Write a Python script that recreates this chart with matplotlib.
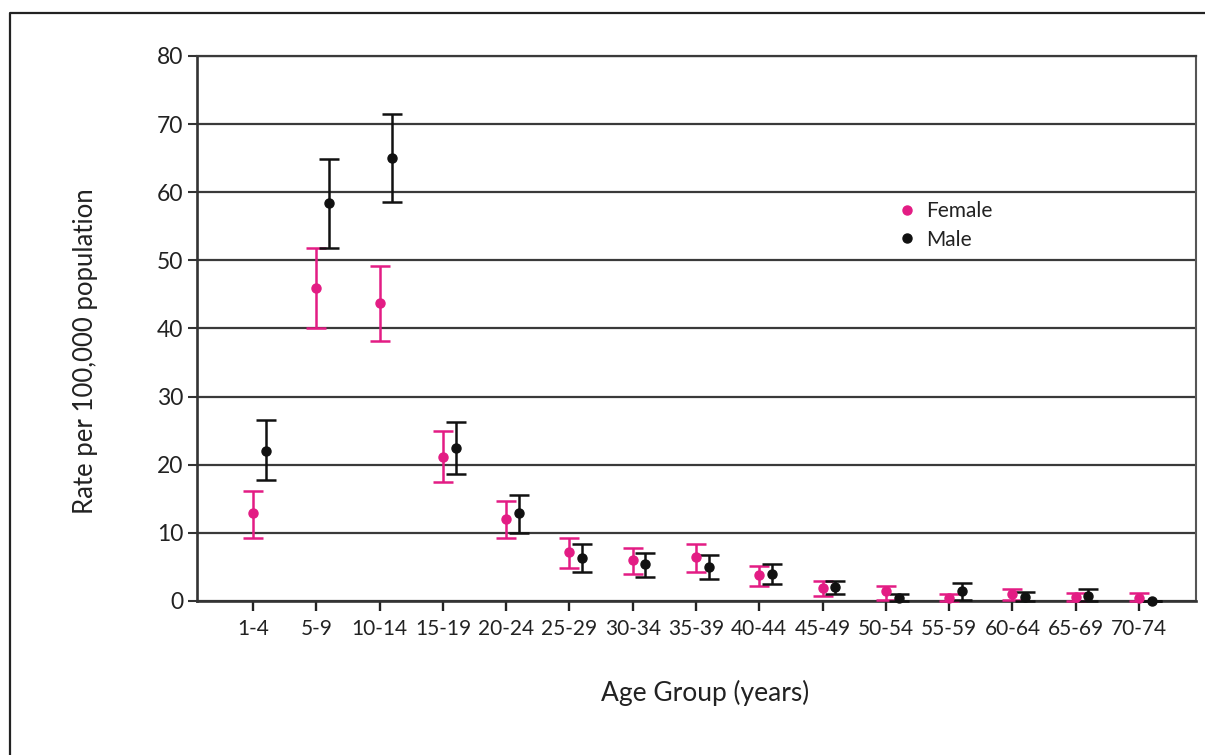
import numpy as np
import matplotlib
matplotlib.use("Agg")
import matplotlib.pyplot as plt
from matplotlib.lines import Line2D

# data
age_groups = ['1-4', '5-9', '10-14', '15-19', '20-24', '25-29', '30-34', '35-39',
              '40-44', '45-49', '50-54', '55-59', '60-64', '65-69', '70-74']
female = [12.9, 45.9, 43.7, 21.2, 12.0, 7.2, 6.0, 6.5, 3.8, 1.9, 1.4, 0.5, 1.0, 0.6, 0.5]
female_lo = [9.3, 40.0, 38.2, 17.4, 9.3, 4.9, 3.9, 4.3, 2.2, 0.7, 0.2, 0.0, 0.1, 0.0, 0.0]
female_hi = [16.2, 51.8, 49.2, 25.0, 14.6, 9.3, 7.8, 8.4, 5.1, 2.9, 2.2, 1.0, 1.8, 1.2, 1.2]
male = [22.0, 58.4, 65.0, 22.4, 12.9, 6.3, 5.4, 5.0, 4.0, 2.1, 0.5, 1.5, 0.6, 0.7, 0.0]
male_lo = [17.7, 51.8, 58.5, 18.6, 10.0, 4.3, 3.5, 3.2, 2.5, 1.0, 0.0, 0.2, 0.0, 0.0, 0.0]
male_hi = [26.5, 64.9, 71.4, 26.2, 15.6, 8.3, 7.1, 6.7, 5.5, 3.0, 1.0, 2.6, 1.3, 1.7, 0.0]

PINK = '#E31C84'
BLACK = '#111111'
GRID = '#3a3a3a'

plt.rcParams['font.family'] = ['Lato', 'DejaVu Sans']

fig = plt.figure(figsize=(12.05, 7.55), dpi=100)
ax = fig.add_axes([0.1635, 0.204, 0.829, 0.722])

x = np.arange(len(age_groups))
male_shift = 0.2


def draw_series(xs, y, lo, hi, color):
    y = np.array(y)
    err = np.vstack([y - np.array(lo), np.array(hi) - y])
    ax.errorbar(xs, y, yerr=err, fmt='o', color=color, ecolor=color,
                markersize=6.5, elinewidth=1.8, capsize=7.2, capthick=1.8,
                clip_on=False, zorder=3)


draw_series(x, female, female_lo, female_hi, PINK)
draw_series(x + male_shift, male, male_lo, male_hi, BLACK)

ax.set_xlim(-0.885, 14.9)
ax.set_ylim(0, 80)
ax.set_yticks(range(0, 81, 10))
ax.set_xticks(x, age_groups)

ax.set_axisbelow(True)
ax.yaxis.grid(True, color=GRID, linewidth=1.6)
ax.xaxis.grid(False)

for side in ['left', 'bottom']:
    ax.spines[side].set_color('#333333')
    ax.spines[side].set_linewidth(1.9)
ax.spines['right'].set_color('#555555')
ax.spines['right'].set_linewidth(1.5)
ax.spines['top'].set_color(GRID)
ax.spines['top'].set_linewidth(1.6)

ax.tick_params(axis='y', length=6.5, width=1.5, color='#333333', pad=3.5,
               labelsize=16.5, labelcolor='#222222')
ax.tick_params(axis='x', length=7, width=1.7, color='#222222', pad=6,
               labelsize=15, labelcolor='#222222')

fig.text(86 / 1205, 1 - 351.5 / 755, 'Rate per 100,000 population', rotation=90,
         ha='center', va='center', fontsize=18.5, color='#222222')
fig.text(705 / 1205, 1 - 693 / 755, 'Age Group (years)', ha='center', va='center',
         fontsize=19, color='#222222')

handles = [Line2D([], [], marker='o', linestyle='none', color=PINK, markersize=6.5),
           Line2D([], [], marker='o', linestyle='none', color=BLACK, markersize=6.5)]
ax.legend(handles, ['Female', 'Male'], loc='center left',
          bbox_to_anchor=(0.7027, 0.689), frameon=False, fontsize=15,
          handlelength=0.8, handletextpad=0.5, labelspacing=0.4,
          borderpad=0, borderaxespad=0, labelcolor='#222222')

# outer frame of the figure (only top and left edges visible)
fig.add_artist(Line2D([10 / 1205, 10 / 1205, 1.0], [0.0, 1 - 12.5 / 755, 1 - 12.5 / 755],
                      transform=fig.transFigure, color='#222222', linewidth=1.6))

fig.savefig('out.png', dpi=100)
